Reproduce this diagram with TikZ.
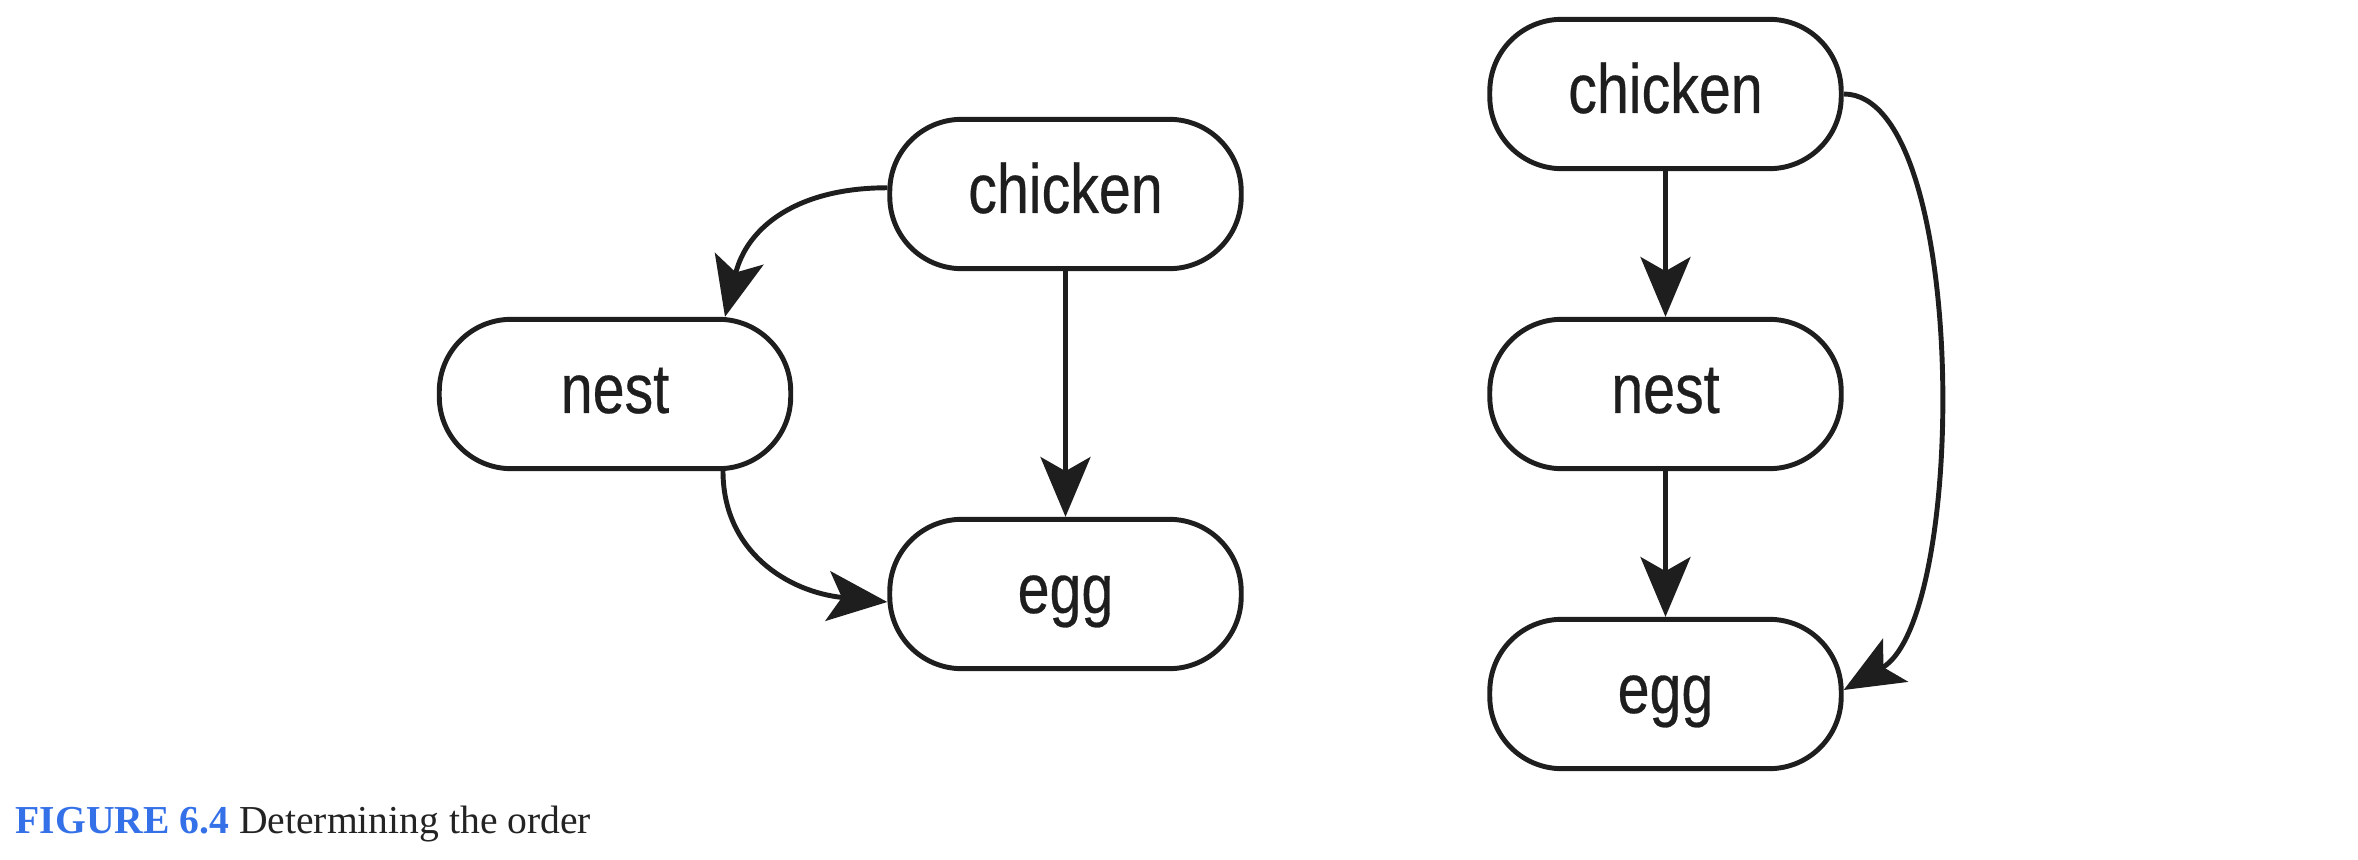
\documentclass[tikz,border=0pt]{standalone}
\usepackage{fontspec}
\setmainfont{Liberation Serif}
\newfontfamily\boxfont[FakeStretch=0.82,FakeBold=0.4]{Liberation Sans}
\usetikzlibrary{arrows.meta,calc}
\definecolor{capblue}{RGB}{52,112,232}
\definecolor{captext}{RGB}{35,35,35}
\definecolor{ink}{RGB}{30,30,30}
\begin{document}
\begin{tikzpicture}[x=0.1mm,y=-0.1mm,
  box/.style={draw=ink, line width=1.4pt, rounded corners=20.5pt,
    minimum width=100pt, minimum height=42.5pt, inner sep=0pt,
    text height=10.8pt, text depth=0pt,
    font=\boxfont\fontsize{19.9pt}{20pt}\selectfont, text=ink},
  arr/.style={draw=ink, line width=1.4pt,
    -{Stealth[length=17pt,width=14.2pt,inset=4pt]}}]
\useasboundingbox (0,0) rectangle (2358,860);
% left diagram
\node[box] (lc) at (1065.5,194) {chicken};
\node[box] (ln) at (615,394) {nest};
\node[box] (le) at (1065.5,594) {egg};
% right diagram
\node[box] (rc) at (1665.5,94) {chicken};
\node[box] (rn) at (1665.5,394) {nest};
\node[box] (re) at (1665.5,694) {egg};
% left connectors
\draw[arr] (lc.178) .. controls +(-90,0) and +(22,-90) .. ($(ln.north)+(110,0)$);
\draw[arr] (lc.south) -- (le.north);
\draw[arr] ($(ln.south)+(108,0)$) .. controls +(0,80) and +(-100,-10) .. ($(le.west)+(0,8)$);
% right connectors
\draw[arr] (rc.south) -- (rn.north);
\draw[arr] (rn.south) -- (re.north);
\draw[arr] (rc.east) .. controls +(125,0) and +(125,-72) .. ($(re.east)+(0,-4)$);
% caption
\node[anchor=base west, inner sep=0pt, font=\fontsize{11.27pt}{13pt}\selectfont] (cap) at (15,833)
  {\textcolor{capblue}{\textbf{FIGURE 6.4}} \textcolor{captext}{Determining the order}};
\end{tikzpicture}
\end{document}
